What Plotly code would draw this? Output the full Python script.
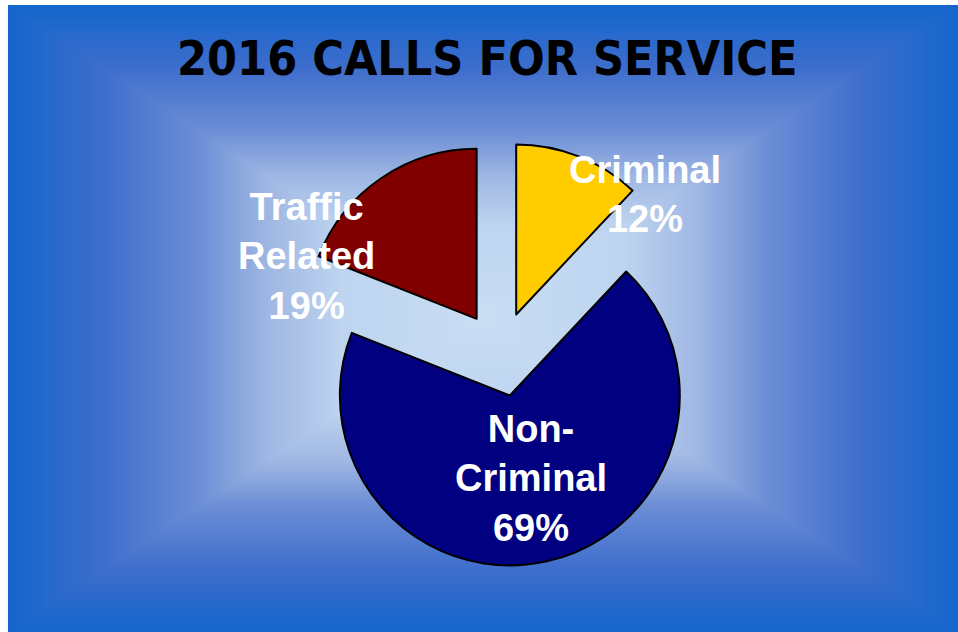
import base64
import struct
import zlib

import numpy as np
import plotly.graph_objects as go

# ---- data ----
title_text = "2016 CALLS FOR SERVICE"
categories = ["Criminal", "Non-Criminal", "Traffic Related"]
label_lines = ["Criminal", "Non-<br>Criminal", "Traffic<br>Related"]
values = [12, 69, 19]
colors = ["#FFCC00", "#000080", "#800000"]

W, H = 958, 632

# ---- rectangular "path" gradient background (light centre, blue edges) ----
def make_png(arr):
    h, w, _ = arr.shape
    raw = b"".join(b"\x00" + arr[y].tobytes() for y in range(h))

    def chunk(tag, data):
        return (struct.pack(">I", len(data)) + tag + data
                + struct.pack(">I", zlib.crc32(tag + data) & 0xFFFFFFFF))

    return (b"\x89PNG\r\n\x1a\n"
            + chunk(b"IHDR", struct.pack(">IIBBBBB", w, h, 8, 2, 0, 0, 0))
            + chunk(b"IDAT", zlib.compress(raw, 9))
            + chunk(b"IEND", b""))

bw, bh = 950, 627
xs = (np.arange(bw) + 0.5) / bw * 2 - 1
ys = (np.arange(bh) + 0.5) / bh * 2 - 1
t = np.maximum(np.abs(xs)[None, :], np.abs(ys)[:, None])
stops_t = [0.0, 0.30, 0.45, 0.60, 0.80, 1.0]
stops_c = np.array([
    [202, 222, 244],
    [190, 212, 240],
    [160, 184, 228],
    [108, 142, 214],
    [62, 110, 204],
    [20, 102, 204],
], dtype=float)
img = np.zeros((bh, bw, 3))
for k in range(3):
    img[:, :, k] = np.interp(t, stops_t, stops_c[:, k])
img = np.clip(img, 0, 255).astype(np.uint8)
bg_uri = "data:image/png;base64," + base64.b64encode(make_png(img)).decode()

# ---- figure ----
total = sum(values)
fig = go.Figure(go.Pie(
    labels=categories,
    values=values,
    sort=False,
    direction="clockwise",
    rotation=0,
    pull=[0.25, 0.25, 0.25],
    marker=dict(colors=colors, line=dict(color="black", width=2)),
    textinfo="none",
    hoverinfo="label+percent",
    domain=dict(x=[0.3007, 0.7443], y=[0.1037, 0.7761]),
    showlegend=False,
))

label_pos = [(645, 194), (531, 478), (306, 257)]
annotations = [dict(
    text=title_text,
    x=487.5 / W, y=1 - 58.5 / H, xref="paper", yref="paper",
    xanchor="center", yanchor="middle", showarrow=False,
    font=dict(family="DejaVu Sans Condensed, DejaVu Sans", size=48,
              color="black", weight="bold"),
)]
for name, v, (px, py) in zip(label_lines, values, label_pos):
    annotations.append(dict(
        text=f"{name}<br>{round(v / total * 100)}%",
        x=px / W, y=1 - py / H, xref="paper", yref="paper",
        xanchor="center", yanchor="middle", showarrow=False, align="center",
        font=dict(family="Liberation Sans, Arial", size=38, color="white",
                  weight="bold"),
    ))

fig.update_layout(
    width=W, height=H,
    margin=dict(l=0, r=0, t=0, b=0),
    paper_bgcolor="white",
    plot_bgcolor="rgba(0,0,0,0)",
    annotations=annotations,
    images=[dict(
        source=bg_uri, xref="paper", yref="paper",
        x=8 / W, y=1 - 5 / H, sizex=bw / W, sizey=bh / H,
        xanchor="left", yanchor="top", sizing="stretch", layer="below",
    )],
)

fig.write_html(
    "out.html",
    config={"displayModeBar": False},
    post_script="document.body.style.margin='0';document.body.style.overflow='hidden';",
)
